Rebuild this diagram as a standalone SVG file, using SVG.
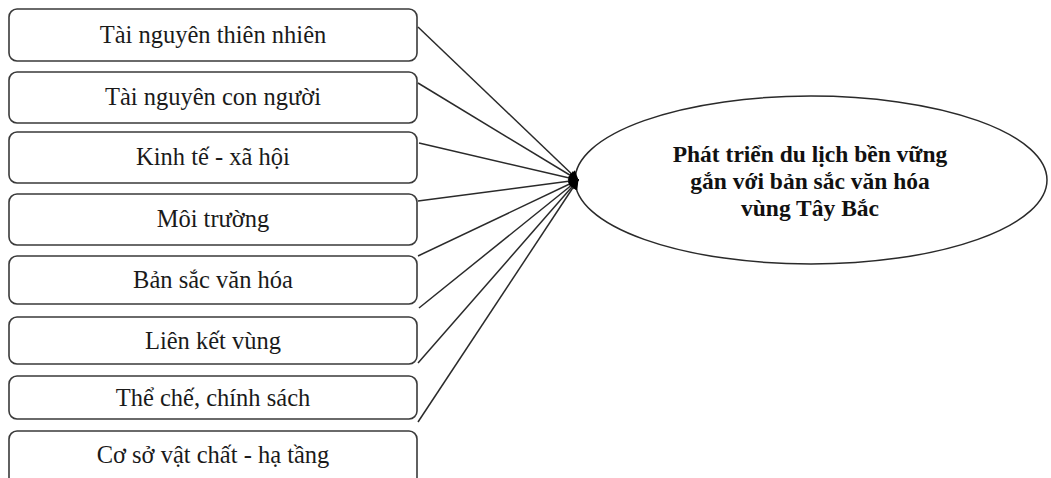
<svg xmlns="http://www.w3.org/2000/svg" width="1051" height="478" viewBox="0 0 1051 478">
<style>
.box{fill:#fff;stroke:#3a3a3a;stroke-width:1.6}
.t{font-family:"Liberation Serif","Times New Roman",serif;font-size:24.5px;fill:#1a1a1a;text-anchor:middle}
.b{font-family:"Liberation Serif","Times New Roman",serif;font-size:23.5px;font-weight:bold;fill:#111;text-anchor:middle}
.c{stroke:#2a2a2a;stroke-width:1.5;fill:none;marker-end:url(#ah)}
</style>
<defs>
<marker id="ah" viewBox="0 0 10 10" refX="9" refY="5" markerWidth="12" markerHeight="10" markerUnits="userSpaceOnUse" orient="auto">
<path d="M0,0 L10,5 L0,10 z" fill="#000"/>
</marker>
</defs>
<rect width="1051" height="478" fill="#fff"/>
<g id="n1"><rect class="box" x="9" y="9" width="408" height="52" rx="8"/><text class="t" x="213" y="43">Tài nguyên thiên nhiên</text></g>
<g id="n2"><rect class="box" x="9" y="72" width="408" height="51" rx="8"/><text class="t" x="213" y="105">Tài nguyên con người</text></g>
<g id="n3"><rect class="box" x="9" y="132" width="408" height="51" rx="8"/><text class="t" x="213" y="165">Kinh tế - xã hội</text></g>
<g id="n4"><rect class="box" x="9" y="194" width="408" height="51" rx="8"/><text class="t" x="213" y="227">Môi trường</text></g>
<g id="n5"><rect class="box" x="9" y="256" width="408" height="48" rx="8"/><text class="t" x="213" y="288">Bản sắc văn hóa</text></g>
<g id="n6"><rect class="box" x="9" y="317" width="408" height="47" rx="8"/><text class="t" x="213" y="349">Liên kết vùng</text></g>
<g id="n7"><rect class="box" x="9" y="376" width="408" height="43" rx="8"/><text class="t" x="213" y="406">Thể chế, chính sách</text></g>
<g id="n8"><rect class="box" x="9" y="431" width="408" height="60" rx="8"/><text class="t" x="213" y="463">Cơ sở vật chất - hạ tầng</text></g>
<g id="center"><ellipse cx="811" cy="180" rx="236" ry="84" fill="#fff" stroke="#2a2a2a" stroke-width="1.5"/>
<text class="b" x="810" y="162">Phát triển du lịch bền vững</text>
<text class="b" x="810" y="189">gắn với bản sắc văn hóa</text>
<text class="b" x="810" y="216">vùng Tây Bắc</text></g>
<g id="connectors">
<line class="c" x1="418" y1="27" x2="578" y2="180"/>
<line class="c" x1="418" y1="83" x2="578" y2="180"/>
<line class="c" x1="419" y1="143" x2="578" y2="180"/>
<line class="c" x1="418" y1="201" x2="578" y2="180"/>
<line class="c" x1="418" y1="256" x2="578" y2="180"/>
<line class="c" x1="419" y1="308" x2="578" y2="180"/>
<line class="c" x1="418" y1="363" x2="578" y2="180"/>
<line class="c" x1="418" y1="422" x2="578" y2="180"/>
</g>
</svg>
